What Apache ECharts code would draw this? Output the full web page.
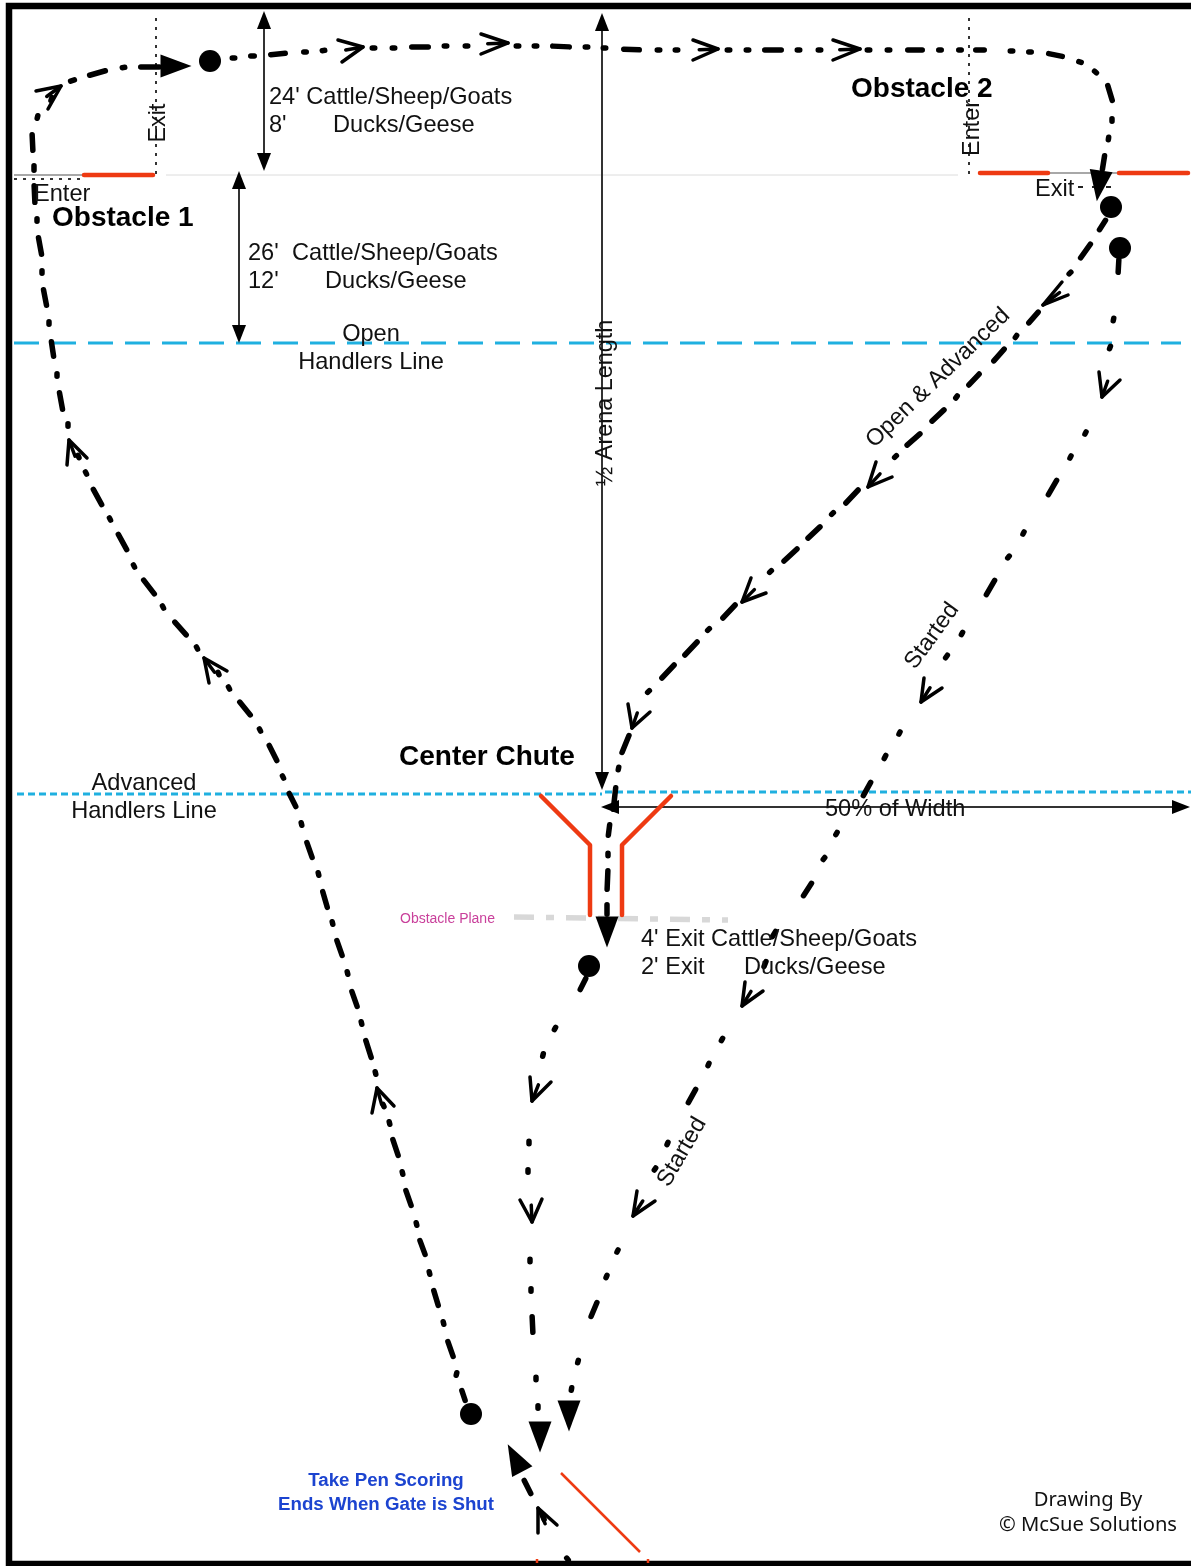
<!DOCTYPE html>
<html><head><meta charset="utf-8">
<style>html,body{margin:0;padding:0;background:#fff}#c{width:1191px;height:1566px}</style>
<script src="https://cdn.jsdelivr.net/npm/echarts@6/dist/echarts.min.js"></script>
</head><body><div id="c"></div>
<script>
// ---- routes: every dash of a run, as x1,y1,x2,y2 (visible ends) ----
const leftRoute=[[466,1403,461,1388],[457,1372,456,1376],[447,1339,454,1359],[443,1321,444,1325],[433,1288,439,1308],[429,1271,430,1275],[419,1238,426,1257],[416,1222,417,1226],[405,1188,412,1208],[402,1171,403,1175],[392,1137,399,1158],[389,1121,390,1125],[385,1109,382,1102],
 [375,1071,376,1075],[365,1038,372,1060],[361,1021,362,1025],[351,989,358,1009],[347,971,348,975],[336,938,343,958],[332,921,333,925],[322,889,328,910],[318,872,319,876],[306,840,313,860],[301,822,302,826],[288,791,297,809],[282,775,284,779],[268,743,278,763],[259,728,261,732],[238,700,252,717],[228,686,230,690],[220,677,217,670],
 [196,646,198,650],[173,620,188,637],[162,605,164,609],[142,578,156,596],[133,564,135,568],[117,532,128,552],[109,517,111,521],[92,487,103,507],[85,471,87,475],[80,460,77,453],
 [68,423,68,427],[59,390,63,412],[57,373,57,377],[51,339,54,359],[49,321,49,325],[43,287,47,308],[42,270,42,274],[38,235,42,257],[37,218,37,222],[34,183,35,205],[34,163,34,173],[32,132,33,153],[37,119,38,115],[50,103,53,95],
 [68,82,77,79],[87,76,108,70],[120,68,127,67],[138,67,162,67]];
const topRoute=[[230,58,237,58],[248,56,257,56],[268,55,288,53],[302,52,308,52],[320,51,327,50],
 [372,48,375,48],[392,48,395,48],[409,47,431,47],[444,46,447,46],[465,46,468,46],
 [516,46,519,46],[534,46,537,46],[550,46,572,47],[585,47,588,47],[603,48,606,48],[621,49,642,50],[657,50,660,50],[675,50,678,50],
 [727,50,730,50],[746,50,749,50],[762,50,784,50],[797,50,800,50],[818,50,821,50],
 [865,50,872,50],[885,50,892,50],[905,50,925,50],[937,50,943,50],[957,50,963,50],[973,50,987,50],[1008,51,1015,51],[1027,52,1033,52],[1046,53,1065,57],[1077,61,1083,63],[1093,70,1098,74],[1107,83,1113,103],[1112,117,1112,123],[1109,135,1108,142],[1105,153,1102,172]];
const openRoute=[[1107,218,1098,232],[1092,242,1079,260],[1072,271,1068,275],
 [1040,310,1027,325],[1017,335,1015,338],[1006,347,992,363],[981,372,967,387],[958,395,955,399],[946,408,930,423],[922,432,905,447],[897,455,894,458],
 [860,488,844,505],[834,512,831,515],[822,525,806,540],[799,547,782,563],[772,570,769,573],
 [737,603,721,620],[710,628,707,631],[699,640,683,657],[676,663,660,680],[650,690,647,693],
 [630,733,621,755],[619,766,618,771],[616,785,613,812],[610,822,608,838],[608,852,608,857],[608,868,607,892],[607,902,607,917]];
const startedRoute=[[1119,257,1118,275],[1114,317,1113,322],[1111,345,1109,350],
 [1087,430,1084,436],[1072,454,1069,460],[1058,478,1047,497],[1025,530,1022,536],[1011,554,1006,560],[996,578,985,597],[964,630,960,637],[949,653,944,660],
 [901,730,898,736],[887,753,883,761],[872,780,862,798],[838,831,835,836],[826,856,822,861],[813,881,802,898],[777,929,771,939],[767,959,763,969],
 [724,1036,720,1043],[710,1061,707,1068],[697,1087,687,1105],[669,1140,666,1147],[657,1166,653,1172],
 [619,1248,616,1254],[608,1273,605,1280],[598,1300,590,1319],[579,1358,577,1365],[572,1386,571,1392]];
const centerExitRoute=[[587,976,579,992],[557,1025,553,1032],[544,1051,542,1059],
 [529,1139,529,1146],[528,1168,528,1174],
 [530,1257,530,1264],[531,1287,531,1293],[532,1314,533,1335],[536,1375,536,1382],[538,1404,538,1410]];
const penRoute=[[523,1478,532,1496],[542,1513,545,1522],[565,1556,570,1562]];
// ---- open arrow heads: arm, tip, arm ----
const openHeads=[
 [[36,91],[61,86],[48,109]],[[338,40],[363,47],[342,62]],[[481,34],[508,43],[481,54]],[[693,40],[718,49],[693,60]],[[833,40],[860,49],[833,60]],
 [[1068,295],[1043,305],[1062,282]],[[892,477],[868,487],[876,462]],[[766,593],[742,602],[751,578]],[[650,712],[632,728],[628,704]],
 [[1120,380],[1102,397],[1099,372]],[[942,688],[921,702],[924,678]],[[763,991],[742,1006],[745,982]],[[655,1201],[633,1216],[637,1191]],
 [[551,1082],[532,1101],[530,1077]],[[542,1199],[532,1222],[520,1200]],
 [[67,465],[69,440],[87,458]],[[209,683],[204,658],[227,671]],[[372,1113],[377,1088],[394,1106]],[[538,1533],[538,1508],[557,1525]]
];
// ---- solid heads: x, y, rotation ----
const routeHeads=[[176,66,-90],[1099,186,172],[607,932,180],[569,1416,180],[540,1437,180],[515,1458,28]];
const dimensionHeads=[[264,20,0],[264,162,180],[239,180,0],[239,334,180],[602,22,0],[602,781,180],[610,807,90],[1181,807,-90]];
const startDots=[[210,61],[1111,207],[1120,248],[589,966],[471,1414]];
// ---- straight lines ----
const dimensionLines=[[[264,20],[264,162]],[[239,180],[239,334]],[[602,22],[602,781]],[[610,807],[1181,807]]];
const obstacleRed=[[[84,175],[153,175]],[[980,173],[1048,173]],[[1119,173],[1188,173]],[[541,796],[590,845],[590,915]],[[671,796],[622,845],[622,915]]];
const penRed=[[[561,1473],[640,1552]],[[537,1559],[537,1563]],[[648,1559],[648,1563]]];
const obstacleGrey=[[[14,175],[82,175]],[[1048,173],[1117,173]]];
const obstacleThin=[[[166,175],[958,175]]];
const dottedLines=[[[156,18],[156,175]],[[969,18],[969,175]],[[14,179],[82,179]]];
const exitDots=[[[1078,187],[1118,187]]];
const openHandlers=[[14,343],[1181,343]];
const advancedLeft=[[17,794],[602,794]];
const advancedRight=[[605,792],[1191,792]];
const obstaclePlane=[[514,917],[728,920]];
const frame=[[1191,6],[9,6],[9,1564],[1191,1564]];
// ---- text ----
const bodyTexts=[["24' Cattle/Sheep/Goats",269,96],["8'",269,124],["Ducks/Geese",333,124],["26'",248,252],["Cattle/Sheep/Goats",292,252],["12'",248,280],["Ducks/Geese",325,280],["Enter",34,193],["Exit",1035,188],["50% of Width",825,808],["4' Exit Cattle/Sheep/Goats",641,938],["2' Exit",641,966],["Ducks/Geese",744,966]];
const centredTexts=[["Open",371,333],["Handlers Line",371,361],["Advanced",144,782],["Handlers Line",144,810]];
const rotatedTexts=[["Exit",159,123,90],["Enter",973,128,90],["½ Arena Length",606,403,90],["Open & Advanced",938,378,44],["Started",932,636,54],["Started",682,1152,60]];
const boldTexts=[["Obstacle 1",52,217],["Obstacle 2",851,88],["Center Chute",399,756]];
const blueTexts=[["Take Pen Scoring",386,1480],["Ends When Gate is Shut",386,1504]];
const creditTexts=[["Drawing By",1088,1499],["© McSue Solutions",1088,1524]];
const planeText=[["Obstacle Plane",400,918]];

const INK='#000',RED='#ee3a12',BLUE='#1fb0e0';
const FONT='"Liberation Sans",Arial,sans-serif';
const RW=5.5;
const series=[];
function line(pts,color,width,dash,opt){
  series.push({type:'line',data:pts,showSymbol:false,symbol:'none',silent:true,clip:false,connectNulls:false,z:(opt&&opt.z)||2,
    lineStyle:{color:color,width:width,type:dash||'solid',cap:(opt&&opt.cap)||'butt',join:(opt&&opt.join)||'round',opacity:1}});
}
// the listed ends are visible ends, so pull them in by the round cap
function dashes(list){
  const pts=[];
  list.forEach(d=>{
    const dx=d[2]-d[0],dy=d[3]-d[1],L=Math.hypot(dx,dy),ux=dx/L,uy=dy/L;
    const cut=L>RW+3?RW/2:(L-2.5)/2;
    pts.push([d[0]+ux*cut,d[1]+uy*cut],[d[2]-ux*cut,d[3]-uy*cut],[null,null]);
  });
  line(pts,INK,RW,'solid',{cap:'round',z:3});
}
function labels(list,fontSize,opts){
  series.push({type:'scatter',silent:true,symbolSize:0,z:5,clip:false,itemStyle:{opacity:1},
    data:list.map(t=>({value:[t[1],t[2]],label:{rotate:opts.rotated?t[3]:0}})),
    label:{show:true,position:'inside',distance:0,offset:opts.rotated?[0,0]:[0,1],
      formatter:p=>list[p.dataIndex][0],fontFamily:opts.family||FONT,fontSize:fontSize,fontWeight:opts.weight||'normal',
      color:opts.color||'#111',align:opts.align||'left',verticalAlign:'middle'}});
}
function heads(list,size,color){
  series.push({type:'scatter',silent:true,symbol:'triangle',symbolSize:size,z:4,clip:false,
    data:list.map(h=>({value:[h[0],h[1]],symbolRotate:h[2]})),itemStyle:{color:color,opacity:1}});
}
line(frame,INK,6.5,'solid',{z:1,join:'miter'});
line(openHandlers,BLUE,3,[25,12]);
line(advancedLeft,BLUE,3,[7,4]);
line(advancedRight,BLUE,3,[7,4]);
line(obstaclePlane,'#d8d8d8',5.5,[20,12,8,12]);
obstacleThin.forEach(l=>line(l,'#dcdcdc',1));
obstacleGrey.forEach(l=>line(l,'#a8a8a8',2));
obstacleRed.forEach(l=>line(l,RED,4.5,'solid',{cap:'round',z:3}));
penRed.forEach(l=>line(l,RED,2.5,'solid',{z:3}));
dottedLines.forEach(l=>line(l,'#333',2,[3,6]));
exitDots.forEach(l=>line(l,'#222',2,[5,9]));
dimensionLines.forEach(l=>line(l,'#333',2));
[leftRoute,topRoute,openRoute,startedRoute,centerExitRoute,penRoute].forEach(dashes);
openHeads.forEach(l=>{
  line(l,INK,3.5,'solid',{z:4,cap:'round'});
  const tip=l[1],mx=(l[0][0]+l[2][0])/2,my=(l[0][1]+l[2][1])/2;
  line([tip,[tip[0]+(mx-tip[0])*0.75,tip[1]+(my-tip[1])*0.75]],INK,3.5,'solid',{z:4,cap:'round'});
});
heads(routeHeads,[23,31],INK);
heads(dimensionHeads,[14,18],INK);
series.push({type:'scatter',silent:true,symbol:'circle',symbolSize:22,z:4,clip:false,data:startDots,itemStyle:{color:INK,opacity:1}});
labels(bodyTexts,23.6,{});
labels(centredTexts,23.6,{align:'center'});
labels(rotatedTexts,23.4,{align:'center',rotated:true});
labels(boldTexts,28,{weight:'bold',color:'#000'});
labels(blueTexts,18.7,{weight:'bold',color:'#1c44d0',align:'center'});
labels(creditTexts,20.2,{family:'"Noto Sans",sans-serif',align:'center'});
labels(planeText,14,{color:'#c9409b'});

const chart=echarts.init(document.getElementById('c'),null,{renderer:'canvas',width:1191,height:1566});
chart.setOption({animation:false,backgroundColor:'#fff',
  grid:{left:0,right:0,top:0,bottom:0},
  xAxis:{type:'value',min:0,max:1191,show:false},
  yAxis:{type:'value',min:0,max:1566,inverse:true,show:false},
  tooltip:{show:false},legend:{show:false},
  series:series});
</script></body></html>
